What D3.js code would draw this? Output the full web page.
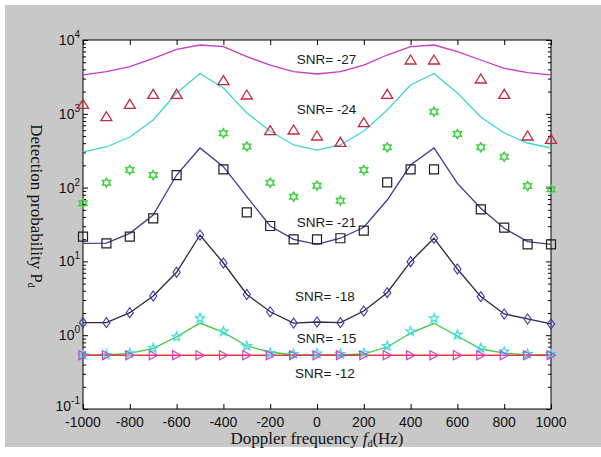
<!DOCTYPE html>
<html>
<head>
<meta charset="utf-8">
<script src="https://cdn.jsdelivr.net/npm/d3@7"></script>
<style>
html,body{margin:0;padding:0;background:#fff;}
svg{display:block;}
</style>
</head>
<body>
<svg id="chart" width="601" height="457"></svg>
<script>
// ---------------- DATA ----------------
const freqs = [-1000,-900,-800,-700,-600,-500,-400,-300,-200,-100,0,100,200,300,400,500,600,700,800,900,1000];

// theoretical curves
const line27 = [3360,3720,4350,5650,7480,8550,8110,5940,4580,3720,3460,3720,4580,6260,8110,8550,6940,5360,4140,3610,3360];
const line24 = [304,355,485,824,1913,3517,2237,1025,585,378,323,378,585,1126,2456,3517,1913,905,549,402,344];
const line21 = [17.6,17.7,24.0,42.5,148,344,192,75.3,30.2,19.9,17.0,20.6,29.0,67.9,202,344,114,52.4,28.1,18.5,17.0];
const line18 = [1.48,1.48,2.02,3.40,7.12,22.8,9.51,3.56,2.08,1.46,1.51,1.48,2.13,3.77,9.91,20.6,7.89,3.33,1.94,1.66,1.42];
const line15 = [0.539,0.539,0.568,0.665,0.954,1.46,1.09,0.714,0.592,0.539,0.539,0.539,0.556,0.692,1.07,1.45,0.975,0.650,0.572,0.539,0.539];
const line12 = [0.535,0.535,0.535,0.535,0.535,0.535,0.535,0.535,0.535,0.535,0.535,0.535,0.535,0.535,0.535,0.535,0.535,0.535,0.535,0.535,0.535];

// simulated points (null = off chart)
const sim27 = [1345,913,1345,1838,1838,null,2809,1798,590,603,500,411,757,1838,5358,5358,null,2961,1838,500,451];
const sim24 = [61.3,116.5,173,148,null,null,544,361,116.5,75.3,106,66.5,173,352,null,1068,532,352,262,105,94.8];
const sim21 = [21.6,17.6,21.6,38.4,148,null,177,46.3,30.2,19.9,19.9,20.6,26.1,118,177,177,null,50.8,28.6,17.0,17.0];
const sim18 = [1.48,1.48,2.02,3.40,7.12,22.8,9.51,3.56,2.08,1.46,1.51,1.48,2.13,3.77,9.91,20.6,7.89,3.33,1.94,1.66,1.42];
const sim15 = [0.539,0.539,0.568,0.665,0.954,1.69,1.12,0.714,0.572,0.556,0.565,0.556,0.572,0.714,1.12,1.69,1.01,0.665,0.598,0.556,0.556];
const sim12 = [0.535,0.535,0.535,0.535,0.535,0.535,0.535,0.535,0.535,0.535,0.535,0.535,0.535,0.535,0.535,0.535,0.535,0.535,0.535,0.535,0.535];

const xTicks = [-1000,-800,-600,-400,-200,0,200,400,600,800,1000];
const yExps = [-1,0,1,2,3,4];

const snrLabels = ["SNR= -27","SNR= -24","SNR= -21","SNR= -18","SNR= -15","SNR= -12"];
const snrLabelAt = [[-87,4730],[-87,1000],[-87,29],[-94,2.9],[-87,0.79],[-94,0.263]];

// ---------------- DRAW ----------------
const svg = d3.select("#chart");
const L = 83, R = 551, T = 40, B = 409;
const x = d3.scaleLinear().domain([-1000,1000]).range([L,R]);
const y = d3.scaleLog().domain([0.1,1e4]).range([B,T]);

// figure background
svg.append("rect").attr("x",5).attr("y",5).attr("width",596).attr("height",442).attr("fill","#c8c8c8");
svg.append("rect").attr("x",L).attr("y",T).attr("width",R-L).attr("height",B-T).attr("fill","#fff");

// axes ticks
const gx = svg.append("g").attr("transform",`translate(0,${B})`)
  .call(d3.axisBottom(x).tickValues(xTicks).tickSize(-5).tickFormat(""));
const gxt = svg.append("g").attr("transform",`translate(0,${T})`)
  .call(d3.axisTop(x).tickValues(xTicks).tickSize(-5).tickFormat(""));
const minor = [];
for (let e=-1;e<4;e++) for (let m=2;m<10;m++) minor.push(m*Math.pow(10,e));
const majors = yExps.map(e=>Math.pow(10,e));
const gyl = svg.append("g").attr("transform",`translate(${L},0)`)
  .call(d3.axisLeft(y).tickValues(majors).tickSize(-5).tickFormat(""));
const gylm = svg.append("g").attr("transform",`translate(${L},0)`)
  .call(d3.axisLeft(y).tickValues(minor).tickSize(-3).tickFormat(""));
const gyr = svg.append("g").attr("transform",`translate(${R},0)`)
  .call(d3.axisRight(y).tickValues(majors).tickSize(-5).tickFormat(""));
const gyrm = svg.append("g").attr("transform",`translate(${R},0)`)
  .call(d3.axisRight(y).tickValues(minor).tickSize(-3).tickFormat(""));
[gx,gxt,gyl,gylm,gyr,gyrm].forEach(g=>{
  g.select(".domain").remove();
  g.selectAll("line").attr("stroke","#000").attr("stroke-width",1);
});
svg.append("rect").attr("x",L).attr("y",T).attr("width",R-L).attr("height",B-T)
  .attr("fill","none").attr("stroke","#000").attr("stroke-width",1);

// tick labels
svg.append("g").selectAll("text").data(xTicks).join("text")
  .attr("x",d=>x(d)).attr("y",B+18).attr("text-anchor","middle")
  .attr("font-family","Liberation Sans, Arial, sans-serif").attr("font-size",14).attr("fill","#111")
  .text(d=>d);
const yl = svg.append("g").selectAll("text").data(yExps).join("text")
  .attr("x",L-3).attr("y",d=>y(Math.pow(10,d))+(d<0?2:5)).attr("text-anchor","end")
  .attr("font-family","Liberation Sans, Arial, sans-serif").attr("font-size",14).attr("fill","#111");
yl.append("tspan").text("10");
yl.append("tspan").attr("dy",-7).attr("font-size",10).text(d=>d);

// axis titles
const xt = svg.append("text").attr("x",317).attr("y",444).attr("text-anchor","middle")
  .attr("font-family","Liberation Serif, Times New Roman, serif").attr("font-size",17).attr("fill","#111");
xt.append("tspan").text("Doppler frequency ");
xt.append("tspan").attr("font-style","italic").text("f");
xt.append("tspan").attr("dy",3).attr("font-size",10).text("d");
xt.append("tspan").attr("dy",-3).text("(Hz)");

const yt = svg.append("text").attr("transform","translate(31,206) rotate(90)").attr("text-anchor","middle")
  .attr("font-family","Liberation Serif, Times New Roman, serif").attr("font-size",17).attr("fill","#111");
yt.append("tspan").text("Detection probability P");
yt.append("tspan").attr("dy",3).attr("font-size",10).text("d");

// lines
const lineGen = d3.line().defined(d=>d[1]!=null).x(d=>x(d[0])).y(d=>y(d[1]));
const lineSeries = [
  {v:line27,c:"#c63cc8"},
  {v:line24,c:"#40d4d4"},
  {v:line21,c:"#3a3a98"},
  {v:line18,c:"#2a2a3a"},
  {v:line15,c:"#44c844"},
  {v:line12,c:"#e23a3a"}
];
lineSeries.forEach(s=>{
  svg.append("path").datum(freqs.map((f,i)=>[f,s.v[i]]))
    .attr("d",lineGen).attr("fill","none").attr("stroke",s.c).attr("stroke-width",1.3);
});

// marker shapes
function triUp(){return "M0,-5L5.5,4L-5.5,4Z";}
function triRight(){return "M4.5,0L-4,-4.5L-4,4.5Z";}
function square(){return "M-4.5,-4.5H4.5V4.5H-4.5Z";}
function diamond(){return "M0,-5L3.6,0L0,5L-3.6,0Z";}
function star(n,ro,ri){
  let p=[];
  for(let k=0;k<2*n;k++){
    const r = k%2===0?ro:ri;
    const a = -Math.PI/2 + k*Math.PI/n;
    p.push([r*Math.cos(a),r*Math.sin(a)]);
  }
  return "M"+p.map(q=>q[0].toFixed(2)+","+q[1].toFixed(2)).join("L")+"Z";
}
const markerSeries = [
  {v:sim27,path:triUp(),c:"#c4283e",w:1.3},
  {v:sim24,path:star(6,4.5,2.6),c:"#40d040",w:1.5},
  {v:sim21,path:square(),c:"#1e1e1e",w:1.2},
  {v:sim18,path:diamond(),c:"#3838b0",w:1.1},
  {v:sim15,path:star(5,4.8,2.0),c:"#40e0e0",w:1.3},
  {v:sim12,path:triRight(),c:"#d040d0",w:1.2}
];
markerSeries.forEach(s=>{
  svg.append("g").selectAll("path").data(freqs.map((f,i)=>[f,s.v[i]]).filter(d=>d[1]!=null)).join("path")
    .attr("transform",d=>`translate(${x(d[0])},${y(d[1])})`)
    .attr("d",s.path).attr("fill","none").attr("stroke",s.c).attr("stroke-width",s.w);
});

// SNR labels
svg.append("g").selectAll("text").data(snrLabels).join("text")
  .attr("x",(d,i)=>x(snrLabelAt[i][0])).attr("y",(d,i)=>y(snrLabelAt[i][1]))
  .attr("font-family","Liberation Sans, Arial, sans-serif").attr("font-size",13.5).attr("fill","#1a1a1a")
  .text(d=>d);
</script>
</body>
</html>
